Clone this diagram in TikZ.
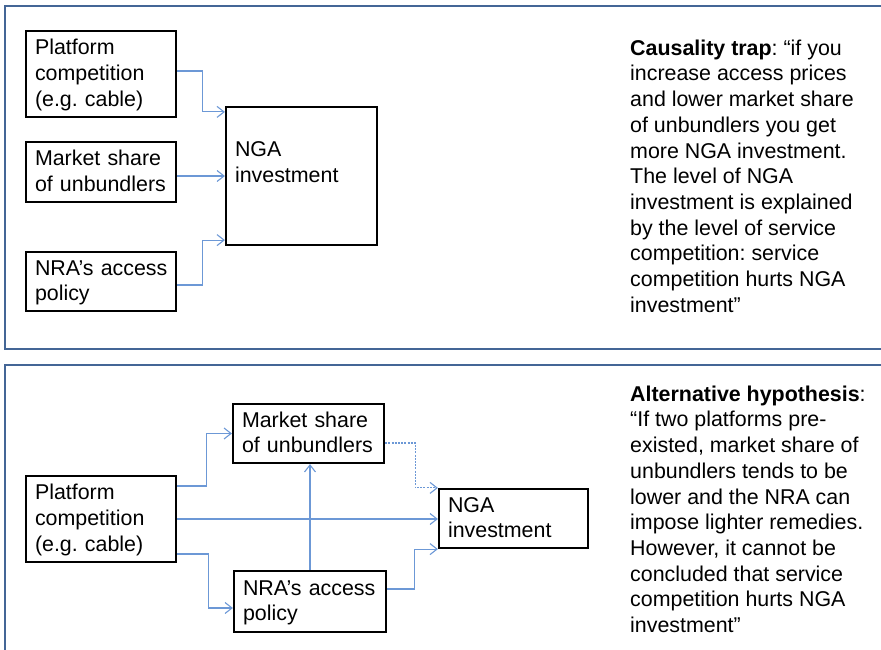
\documentclass[tikz,border=0pt]{standalone}
\usepackage{fontspec}
\setmainfont{Liberation Sans}
\usetikzlibrary{arrows.meta}

\definecolor{panelblue}{RGB}{68,102,150}
\definecolor{linkblue}{RGB}{108,152,214}

% strut matching the 25.7pt line pitch
\newcommand\lstrut{\rule[-6.4pt]{0pt}{25.7pt}}

\begin{document}
\begin{tikzpicture}[x=1pt,y=-1pt,
  txt/.style={font=\fontsize{21.4pt}{25.7pt}\selectfont\frenchspacing},
  panel/.style={draw=panelblue, line width=2pt},
  box/.style={txt, draw=black, line width=2.2pt, inner xsep=9pt, inner ysep=0pt,
    align=left, anchor=center},
  note/.style={txt, inner sep=0pt, align=left, anchor=north west},
  arr/.style={draw=linkblue, line width=1.1pt,
    -{Straight Barb[length=7pt,width=11pt,line width=1.1pt]}},
  dotarr/.style={arr, dash pattern=on 2pt off 1.2pt}]

\useasboundingbox (0,0) rectangle (881,650);

% two framed panels, open on the right and bottom
\draw[panel] (5,6) rectangle (900,349);
\draw[panel] (5,365) rectangle (900,700);

% ---------- upper diagram ----------
\node[box, text width=132pt, minimum height=86pt] (P1) at (101,74)
  {\lstrut Platform\\competition\\(e.g. cable)\lstrut};
\node[box, text width=132pt, minimum height=60pt] (M1) at (101,172)
  {\lstrut\mbox{Market share}\\\mbox{of unbundlers}\lstrut};
\node[box, text width=132pt, minimum height=59pt] (R1) at (101,281.5)
  {\lstrut\mbox{NRA’s access}\\policy\lstrut};
\node[box, text width=133pt, minimum height=138pt] (N1) at (301.5,176)
  {\lstrut NGA\\investment\\\mbox{}\lstrut};

\draw[arr] ([yshift=3pt]P1.east) -- ++(25,0) |- ([yshift=-6pt]N1.north west);
\draw[arr] (M1.east |- N1.west) -- (N1.west);
\draw[arr] ([yshift=-3.5pt]R1.east) -- ++(25,0) |- ([yshift=6pt]N1.south west);

\node[note] (T1) at (630,35.7)
  {\lstrut\textbf{Causality trap}: “if you\\
   increase access prices\\
   and lower market share\\
   of unbundlers you get\\
   more NGA investment.\\
   The level of NGA\\
   investment is explained\\
   by the level of service\\
   competition: service\\
   competition hurts NGA\\
   investment”\lstrut};

% ---------- lower diagram ----------
\node[box, text width=132pt, minimum height=86pt] (P2) at (101,519)
  {\lstrut Platform\\competition\\(e.g. cable)\lstrut};
\node[box, text width=133pt, minimum height=59pt] (M2) at (308.5,433.5)
  {\lstrut\mbox{Market share}\\\mbox{of unbundlers}\lstrut};
\node[box, text width=134pt, minimum height=61pt] (R2) at (310,601.5)
  {\lstrut\mbox{NRA’s access}\\policy\lstrut};
\node[box, text width=131pt, minimum height=59pt] (N2) at (513.5,518.5)
  {\lstrut NGA\\investment\lstrut};

\draw[arr] ([yshift=33pt]P2.east) -- ++(29,0) |- (M2.west);
\draw[arr] (P2.east) -- (P2.east -| N2.west);
\draw[arr] ([yshift=-35pt]P2.east) -- ++(31,0) |- ([yshift=-6.5pt]R2.west);
\draw[arr] (R2.north) -- (R2.north |- M2.south);
\draw[dotarr] ([yshift=-9.5pt]M2.east) -- ++(30,0) |- (N2.north west);
\draw[arr] ([yshift=12.5pt]R2.east) -- ++(27,0) |- (N2.south west);

\node[note] (T2) at (630,381.7)
  {\lstrut\textbf{Alternative hypothesis}:\\
   “If two platforms pre-\\
   existed, market share of\\
   unbundlers tends to be\\
   lower and the NRA can\\
   impose lighter remedies.\\
   However, it cannot be\\
   concluded that service\\
   competition hurts NGA\\
   investment”\lstrut};
\end{tikzpicture}
\end{document}
